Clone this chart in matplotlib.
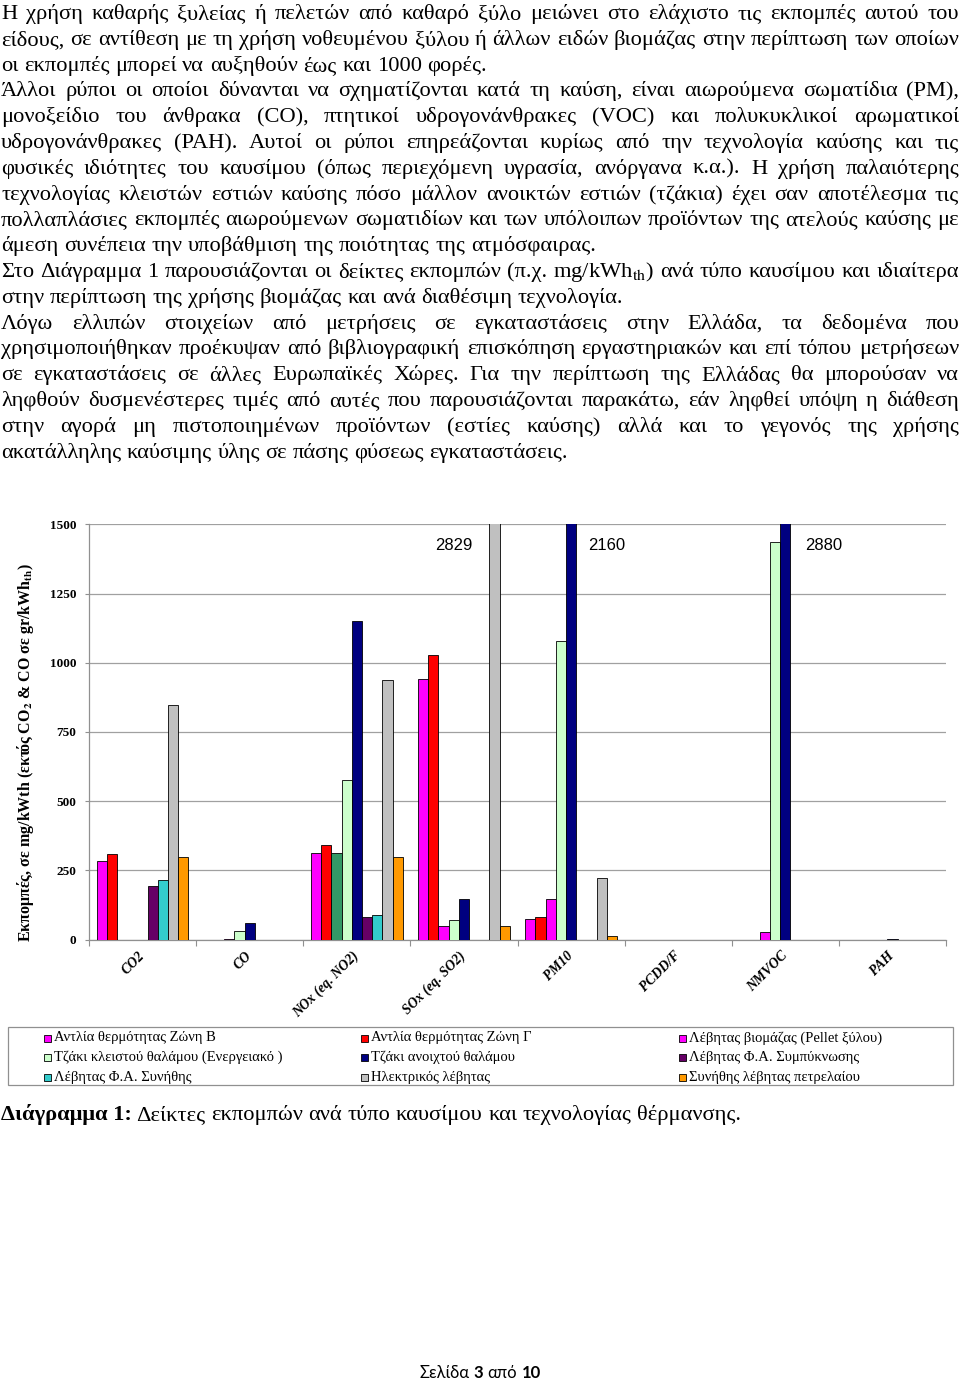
import matplotlib
matplotlib.use("Agg")
import numpy as np
import matplotlib.pyplot as plt
from matplotlib.font_manager import FontProperties
from matplotlib.patches import Rectangle
from matplotlib.ticker import FixedLocator, NullFormatter, FixedFormatter

plt.rcParams["mathtext.fontset"] = "stix"

# ---------------- δεδομένα διαγράμματος ----------------
categories = ["CO2", "CO", "NOx (eq. NO2)", "SOx (eq. SO2)", "PM10", "PCDD/F", "NMVOC", "PAH"]
nan = np.nan
series_names = [
    "Αντλία θερμότητας Ζώνη Β",
    "Αντλία θερμότητας Ζώνη Γ",
    "Λέβητας βιομάζας (Pellet ξύλου)",
    "Τζάκι κλειστού θαλάμου (Ενεργειακό )",
    "Τζάκι ανοιχτού θαλάμου",
    "Λέβητας Φ.Α. Συμπύκνωσης",
    "Λέβητας Φ.Α. Συνήθης",
    "Ηλεκτρικός λέβητας",
    "Συνήθης λέβητας πετρελαίου",
]
heat_pump_b = [284, nan, 314, 941, 75, nan, nan, nan]
heat_pump_c = [309, nan, 342, 1028, 82, nan, nan, nan]
pellet_boiler = [nan, 1, 314, 49, 146, 0.5, 29, 0.5]
closed_fireplace = [nan, 31, 577, 72, 1080, 0.5, 1437, 0.5]
open_fireplace = [nan, 59, 1152, 146, 2160, 0.5, 2880, 3]
gas_condensing = [194, 0.5, 81, nan, 0.5, nan, nan, nan]
gas_standard = [217, 0.5, 90, nan, 0.5, nan, nan, nan]
electric_boiler = [848, nan, 938, 2829, 224, nan, nan, nan]
oil_boiler = [297, 0.5, 300, 48, 14, nan, nan, nan]
series = [heat_pump_b, heat_pump_c, pellet_boiler, closed_fireplace, open_fireplace,
          gas_condensing, gas_standard, electric_boiler, oil_boiler]
colors = ["#FF00FF", "#FF0000", "#FF00FF", "#CCFFCC", "#000080",
          "#660066", "#33CCCC", "#C0C0C0", "#FF9900"]
y_ticks = [0, 250, 500, 750, 1000, 1250, 1500]

# ---------------- κείμενο σελίδας ----------------
body_lines = [
    ("Η χρήση καθαρής ξυλείας ή πελετών από καθαρό ξύλο μειώνει στο ελάχιστο τις εκπομπές αυτού του", True),
    ("είδους, σε αντίθεση με τη χρήση νοθευμένου ξύλου ή άλλων ειδών βιομάζας στην περίπτωση των οποίων", True),
    ("οι εκπομπές μπορεί να αυξηθούν έως και 1000 φορές.", False),
    ("Άλλοι ρύποι οι οποίοι δύνανται να σχηματίζονται κατά τη καύση, είναι αιωρούμενα σωματίδια (PM),", True),
    ("μονοξείδιο του άνθρακα (CO), πτητικοί υδρογονάνθρακες (VOC) και πολυκυκλικοί αρωματικοί", True),
    ("υδρογονάνθρακες (PAH). Αυτοί οι ρύποι επηρεάζονται κυρίως από την τεχνολογία καύσης και τις", True),
    ("φυσικές ιδιότητες του καυσίμου (όπως περιεχόμενη υγρασία, ανόργανα κ.α.). Η χρήση παλαιότερης", True),
    ("τεχνολογίας κλειστών εστιών καύσης πόσο μάλλον ανοικτών εστιών (τζάκια) έχει σαν αποτέλεσμα τις", True),
    ("πολλαπλάσιες εκπομπές αιωρούμενων σωματιδίων και των υπόλοιπων προϊόντων της ατελούς καύσης με", True),
    ("άμεση συνέπεια την υποβάθμιση της ποιότητας της ατμόσφαιρας.", False),
    ("Στο Διάγραμμα 1 παρουσιάζονται οι δείκτες εκπομπών (π.χ. mg/kWh$_{\\mathrm{th}}$) ανά τύπο καυσίμου και ιδιαίτερα", True),
    ("στην περίπτωση της χρήσης βιομάζας και ανά διαθέσιμη τεχνολογία.", False),
    ("Λόγω ελλιπών στοιχείων από μετρήσεις σε εγκαταστάσεις στην Ελλάδα, τα δεδομένα που", True),
    ("χρησιμοποιήθηκαν προέκυψαν από βιβλιογραφική επισκόπηση εργαστηριακών και επί τόπου μετρήσεων", True),
    ("σε εγκαταστάσεις σε άλλες Ευρωπαϊκές Χώρες. Για την περίπτωση της Ελλάδας θα μπορούσαν να", True),
    ("ληφθούν δυσμενέστερες τιμές από αυτές που παρουσιάζονται παρακάτω, εάν ληφθεί υπόψη η διάθεση", True),
    ("στην αγορά μη πιστοποιημένων προϊόντων (εστίες καύσης) αλλά και το γεγονός της χρήσης", True),
    ("ακατάλληλης καύσιμης ύλης σε πάσης φύσεως εγκαταστάσεις.", False),
]
caption_bold = "Διάγραμμα 1:"
caption_text = "Δείκτες εκπομπών ανά τύπο καυσίμου και τεχνολογίας θέρμανσης."

W, H = 960, 1382
fig = plt.figure(figsize=(W / 100, H / 100), dpi=100)
renderer = fig.canvas.get_renderer()

serif = FontProperties(family="Liberation Serif", size=16.2)
serif_bold = FontProperties(family="Liberation Serif", size=16.2, weight="bold")


def fx(x):
    return x / W


def fy(y):
    return 1 - y / H


def width_px(s, fp):
    w, h, d = renderer.get_text_width_height_descent(s, fp, ismath=("$" in s))
    return w


def space_px(fp):
    return width_px("a a", fp) - width_px("aa", fp)


def draw_words(words, baseline, x0, x1=None):
    """words: λίστα (λέξη, γραμματοσειρά). Αν δοθεί x1 γίνεται πλήρης στοίχιση."""
    widths = [width_px(w, fp) for w, fp in words]
    if x1 is not None and len(words) > 1:
        gap = (x1 - x0 - sum(widths)) / (len(words) - 1)
    else:
        gap = space_px(words[0][1])
    x = x0
    for (w, fp), wd in zip(words, widths):
        fig.text(fx(x), fy(baseline), w, fontproperties=fp, va="baseline", ha="left")
        x += wd + gap
    return x - gap


# κείμενο σελίδας
for i, (line, justify) in enumerate(body_lines):
    words = [(w, serif) for w in line.split(" ")]
    draw_words(words, 19 + 25.8 * i, 1, 959 if justify else None)

# ---------------- διάγραμμα ----------------
ax_l, ax_r, ax_t, ax_b = 89, 946, 524.3, 939.7
ax = fig.add_axes([fx(ax_l), fy(ax_b), (ax_r - ax_l) / W, (ax_b - ax_t) / H])

x = np.arange(len(categories))
bw = 1 / 10.5
bar_groups = []
for i, (vals, col) in enumerate(zip(series, colors)):
    vals = np.array(vals, dtype=float)
    keep = ~np.isnan(vals)
    bars = ax.bar(x[keep] + (i - 4) * bw, vals[keep], bw, color=col,
                  edgecolor="black", linewidth=0.6, zorder=3)
    bar_groups.append((x[keep], bars))

# η μπάρα pellet στα NOx είναι σε πράσινο χρώμα στο πρωτότυπο
for xi, b in zip(*bar_groups[2]):
    if categories[xi].startswith("NOx"):
        b.set_facecolor("#339966")

ax.set_xlim(-0.5, len(categories) - 0.5)
ax.set_ylim(0, 1500)
ax.yaxis.set_major_locator(FixedLocator(y_ticks))
ax.grid(axis="y", color="#A0A0A0", linewidth=0.9, zorder=0)
ax.set_axisbelow(True)
for s in ["top", "right"]:
    ax.spines[s].set_visible(False)
for s in ["left", "bottom"]:
    ax.spines[s].set_color("#909090")
    ax.spines[s].set_linewidth(0.9)

ax.tick_params(axis="y", length=3, color="#909090", pad=6)
for lab in ax.get_yticklabels():
    lab.set_fontfamily("Liberation Serif")
    lab.set_fontweight("bold")
    lab.set_fontsize(9.5)

ax.xaxis.set_major_locator(FixedLocator(np.arange(len(categories) + 1) - 0.5))
ax.xaxis.set_major_formatter(NullFormatter())
ax.xaxis.set_minor_locator(FixedLocator(x))
ax.xaxis.set_minor_formatter(FixedFormatter(categories))
ax.tick_params(axis="x", which="major", length=4, color="#909090")
ax.tick_params(axis="x", which="minor", length=0, pad=10)
for lab in ax.get_xticklabels(minor=True):
    lab.set_fontfamily("Liberation Serif")
    lab.set_fontweight("bold")
    lab.set_fontstyle("italic")
    lab.set_fontsize(10)
    lab.set_rotation(45)
    lab.set_ha("right")
    lab.set_va("center")
    lab.set_rotation_mode("anchor")

# τιμές που ξεπερνούν την κλίμακα
label_shift = {"SOx (eq. SO2)": -0.38, "PM10": 0.33, "NMVOC": 0.36}
for i, vals in enumerate(series):
    for xi, v in enumerate(vals):
        if not np.isnan(v) and v > 1500:
            ax.text(xi + (i - 4) * bw + label_shift[categories[xi]], 1425, f"{v:g}",
                    family="Liberation Sans", fontsize=12, ha="center", va="center")

fig.text(fx(26), fy(752),
         "Εκπομπές, σε mg/kWth (εκτός CO$_{\\mathbf{2}}$ & CO σε gr/kWh$_{\\mathbf{th}}$)",
         rotation=90, ha="center", va="center", family="Liberation Serif",
         fontweight="bold", fontsize=11.5)

# υπόμνημα
fig.patches.append(Rectangle((fx(8), fy(1085)), (953 - 8) / W, (1085 - 1027) / H,
                             transform=fig.transFigure, fill=False,
                             edgecolor="#909090", linewidth=0.9))
leg_fp = FontProperties(family="Liberation Serif", size=10.5)
col_x = [44, 361, 679]
row_y = [1038, 1057.5, 1077]
for k, (name, col) in enumerate(zip(series_names, colors)):
    cx, cy = col_x[k % 3], row_y[k // 3]
    fig.patches.append(Rectangle((fx(cx), fy(cy + 3.5)), 7 / W, 7 / H,
                                 transform=fig.transFigure, facecolor=col,
                                 edgecolor="black", linewidth=0.6))
    fig.text(fx(cx + 10), fy(cy), name, fontproperties=leg_fp, va="center", ha="left")

# λεζάντα
xe = draw_words([(caption_bold, serif_bold)], 1120, 1)
draw_words([(w, serif) for w in caption_text.split(" ")], 1120, xe + 4)

# υποσέλιδο
foot = FontProperties(family="Lato", size=12)
foot_b = FontProperties(family="Lato", size=12, weight="bold")
parts = [("Σελίδα", foot), ("3", foot_b), ("από", foot), ("10", foot_b)]
total = sum(width_px(p, f) for p, f in parts) + 3 * space_px(foot)
draw_words(parts, 1378, 480 - total / 2)

fig.savefig("out.png", dpi=100)
